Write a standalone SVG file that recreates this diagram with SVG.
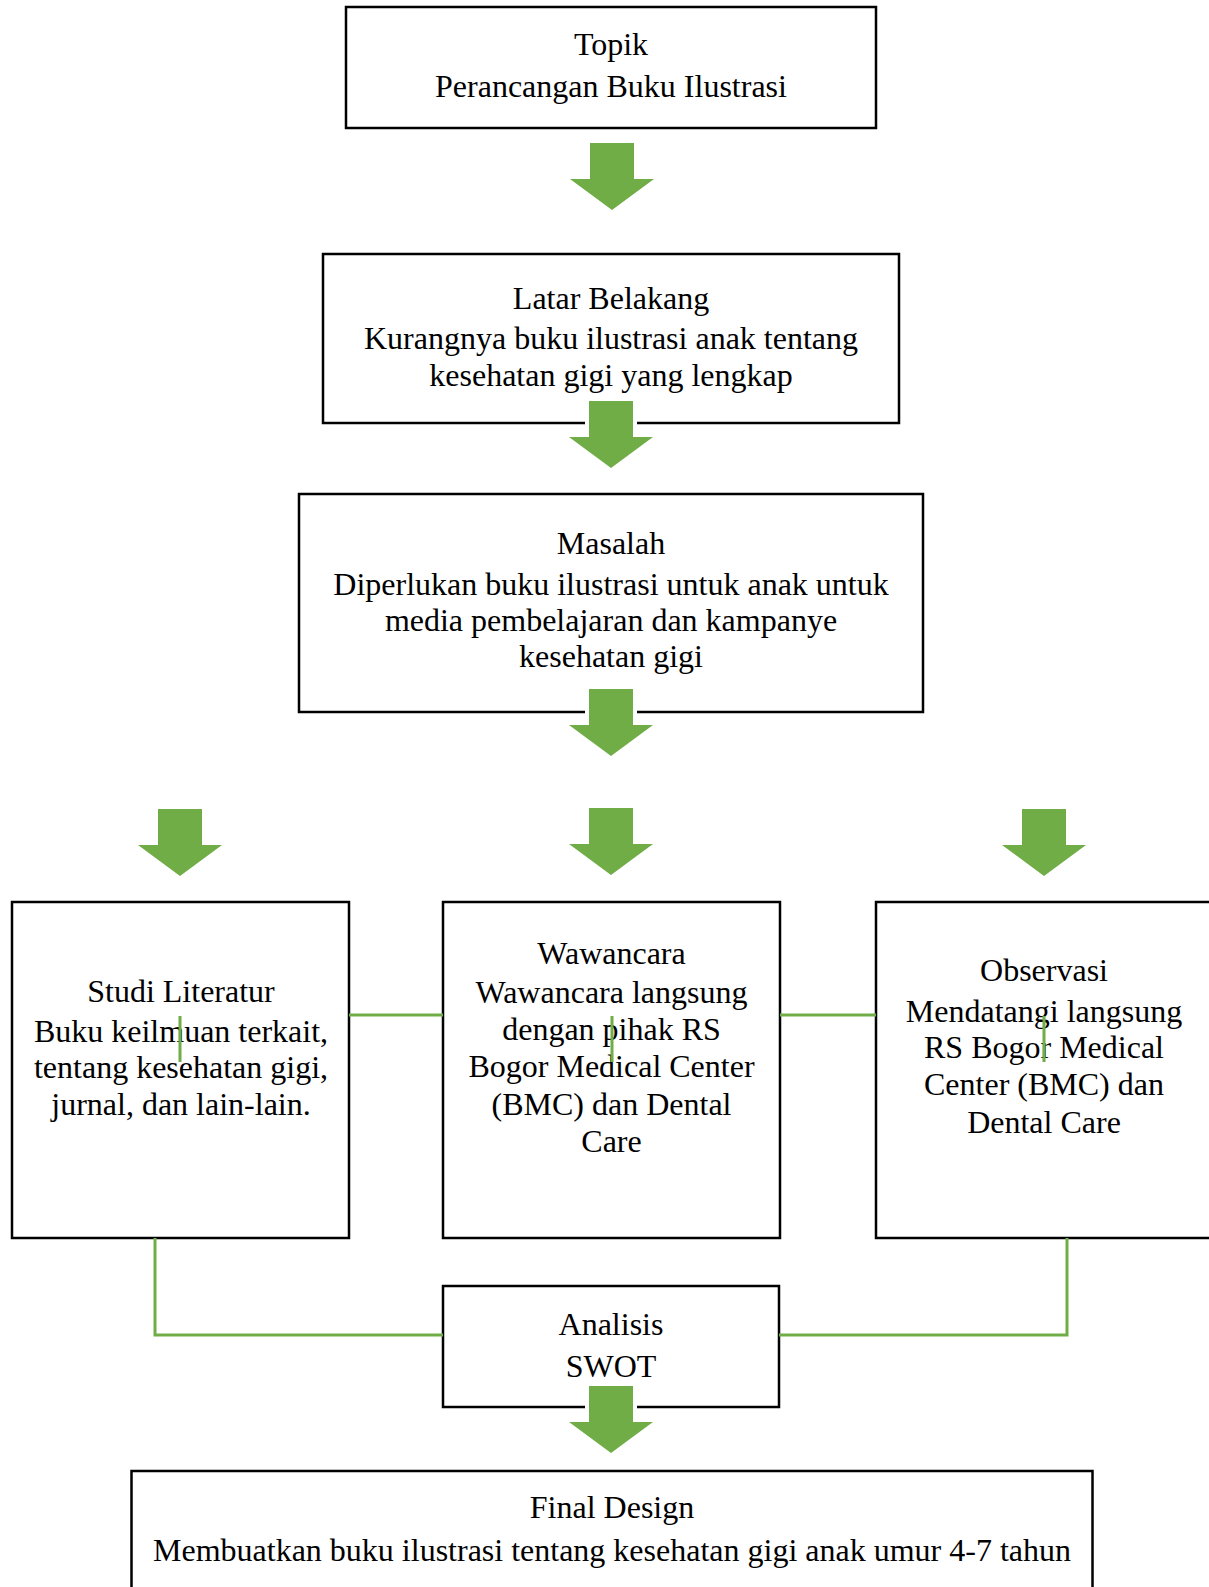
<svg xmlns="http://www.w3.org/2000/svg" xmlns:xlink="http://www.w3.org/1999/xlink" width="1209" height="1587" viewBox="0 0 1209 1587">
<style>
.box{fill:#fff;stroke:#000;stroke-width:2.5}
.t{font-family:"Liberation Serif","Times New Roman",serif;font-size:32px;fill:#000;text-anchor:middle}
.ln{fill:none;stroke:#70AD47;stroke-width:3}
.arr{fill:#70AD47;stroke:#fff;stroke-width:8;paint-order:stroke;stroke-linejoin:miter}
</style>
<defs>
<path id="arrow" d="M-22,0 H22 V36 H42 L0,67 L-42,36 H-22 Z"/>
</defs>
<rect width="1209" height="1587" fill="#fff"/>
<g id="topik">
<rect class="box" x="346" y="7" width="530" height="121"/>
<text class="t" x="611" y="55">Topik</text>
<text class="t" x="611" y="97">Perancangan Buku Ilustrasi</text>
</g>
<g id="latar">
<rect class="box" x="323" y="254" width="576" height="169"/>
<text class="t" x="611" y="309">Latar Belakang</text>
<text class="t" x="611" y="349">Kurangnya buku ilustrasi anak tentang</text>
<text class="t" x="611" y="386">kesehatan gigi yang lengkap</text>
</g>
<g id="masalah">
<rect class="box" x="299" y="494" width="624" height="218"/>
<text class="t" x="611" y="554">Masalah</text>
<text class="t" x="611" y="595">Diperlukan buku ilustrasi untuk anak untuk</text>
<text class="t" x="611" y="631">media pembelajaran dan kampanye</text>
<text class="t" x="611" y="667">kesehatan gigi</text>
</g>
<g id="studi">
<rect class="box" x="12" y="902" width="337" height="336"/>
<text class="t" x="181" y="1002">Studi Literatur</text>
<text class="t" x="181" y="1042">Buku keilmuan terkait,</text>
<text class="t" x="181" y="1078">tentang kesehatan gigi,</text>
<text class="t" x="181" y="1115">jurnal, dan lain-lain.</text>
</g>
<g id="wawancara">
<rect class="box" x="443" y="902" width="337" height="336"/>
<text class="t" x="611.5" y="964">Wawancara</text>
<text class="t" x="611.5" y="1003">Wawancara langsung</text>
<text class="t" x="611.5" y="1040">dengan pihak RS</text>
<text class="t" x="611.5" y="1077">Bogor Medical Center</text>
<text class="t" x="611.5" y="1115">(BMC) dan Dental</text>
<text class="t" x="611.5" y="1152">Care</text>
</g>
<g id="observasi">
<rect class="box" x="876" y="902" width="345" height="336"/>
<text class="t" x="1044" y="981">Observasi</text>
<text class="t" x="1044" y="1022">Mendatangi langsung</text>
<text class="t" x="1044" y="1058">RS Bogor Medical</text>
<text class="t" x="1044" y="1095">Center (BMC) dan</text>
<text class="t" x="1044" y="1133">Dental Care</text>
</g>
<g id="analisis">
<rect class="box" x="443" y="1286" width="336" height="121"/>
<text class="t" x="611" y="1335">Analisis</text>
<text class="t" x="611" y="1377">SWOT</text>
</g>
<g id="final">
<rect class="box" x="131.5" y="1471" width="961" height="140"/>
<text class="t" x="612" y="1518">Final Design</text>
<text class="t" x="612" y="1561">Membuatkan buku ilustrasi tentang kesehatan gigi anak umur 4-7 tahun</text>
</g>
<g id="connectors">
<use class="arr" xlink:href="#arrow" href="#arrow" transform="translate(612,143)"/>
<use class="arr" xlink:href="#arrow" href="#arrow" transform="translate(611,401)"/>
<use class="arr" xlink:href="#arrow" href="#arrow" transform="translate(611,689)"/>
<use class="arr" xlink:href="#arrow" href="#arrow" transform="translate(180,809)"/>
<use class="arr" xlink:href="#arrow" href="#arrow" transform="translate(611,808)"/>
<use class="arr" xlink:href="#arrow" href="#arrow" transform="translate(1044,809)"/>
<use class="arr" xlink:href="#arrow" href="#arrow" transform="translate(611,1386)"/>
<line class="ln" x1="349" y1="1015" x2="443" y2="1015"/>
<line class="ln" x1="780" y1="1015" x2="876" y2="1015"/>
<line class="ln" x1="180" y1="1016" x2="180" y2="1062"/>
<line class="ln" x1="612" y1="1016" x2="612" y2="1062"/>
<line class="ln" x1="1044" y1="1016" x2="1044" y2="1062"/>
<polyline class="ln" points="155,1238 155,1335 443,1335"/>
<polyline class="ln" points="1067,1238 1067,1335 779,1335"/>
</g>
</svg>
